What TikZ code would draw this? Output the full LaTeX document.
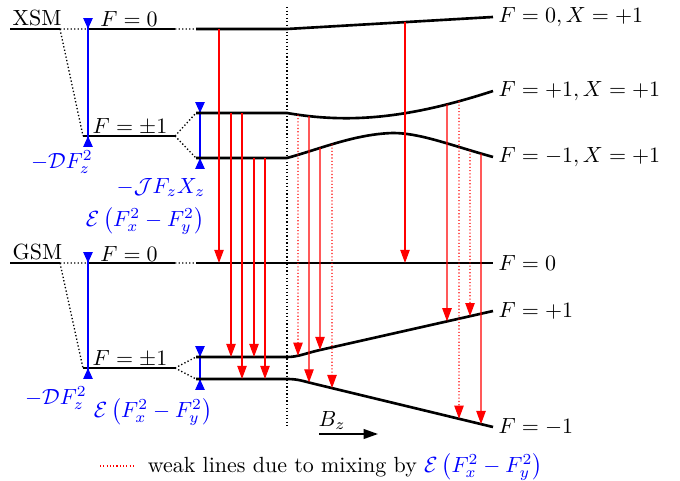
\documentclass[tikz,border=0pt]{standalone}
\usepackage{amsmath}
\usepackage{amssymb}
\usetikzlibrary{arrows.meta,intersections}
\tikzset{
  level/.style={line width=1.2pt},
  link/.style={densely dotted, line width=0.6pt},
  split/.style={blue, line width=0.9pt,
    {Triangle[reversed,length=5pt,width=4.2pt]}-{Triangle[reversed,length=5pt,width=4.2pt]},
    shorten <=-5pt, shorten >=-5pt},
  trans/.style={red, line width=0.5pt, -{Triangle[length=6pt,width=4.3pt]}},
  weak/.style={trans, densely dotted},
  lbl/.style={inner sep=1pt},
  rlbl/.style={right, inner sep=2pt},
  blu/.style={text=blue, inner sep=0pt, anchor=base},
}
\begin{document}
\begin{tikzpicture}[x=0.016cm,y=-0.016cm]
\useasboundingbox (0,0) rectangle (680,480);
% zero-field manifolds
\foreach \tag/\yo/\yi/\ya/\yb in {XSM/29/136/113/158, GSM/263/368/357/379}{
  \draw[level] (10,\yo) -- (60,\yo);
  \node[anchor=south west, lbl] (\tag) at (10,\yo) {\tag};
  \draw[link] (60,\yo) -- (88,\yo) (175,\yo) -- (196,\yo) (60,\yo) -- (83,\yi)
    (175,\yi) -- (196,\ya) (175,\yi) -- (196,\yb);
  \draw[level] (88,\yo) -- (175,\yo) (83,\yi) -- (175,\yi);
  \node[anchor=base] (\tag-f0) at (129,\yo-2) {$F=0$};
  \node[anchor=base] (\tag-f1) at (130,\yi-3) {$F=\pm1$};
  \draw[split] (88,\yo) -- (88,\yi);
  \draw[split] (200,\ya) -- (200,\yb);
}
% splitting labels
\node[blu] (dx) at (62,168) {$-\mathcal{D}F_z^2$};
\node[blu] (jx) at (161,193) {$-\mathcal{J}F_zX_z$};
\node[blu] (ex) at (145,226) {$\mathcal{E}\left(F_x^2-F_y^2\right)$};
\node[blu] (dg) at (56,404) {$-\mathcal{D}F_z^2$};
\node[blu] (eg) at (153,417) {$\mathcal{E}\left(F_x^2-F_y^2\right)$};
% levels in field
\draw[level,name path=XF] (196,29) -- (287,29) -- (493,17) node[rlbl] (xf) {$F=0, X=+1$};
\draw[level,name path=XU] (196,113) -- (287,113) .. controls (350,124) and (410,118) .. (493,91)
  node[rlbl] (xu) {$F=+1, X=+1$};
\draw[level,name path=XL] (196,158) -- (287,158) .. controls (320,149) and (355,134) .. (393,133)
  .. controls (420,133) and (450,145) .. (493,157) node[rlbl] (xl) {$F=-1, X=+1$};
\draw[level,name path=GF] (196,263) -- (493,263) node[rlbl] (gf) {$F=0$};
\draw[level,name path=GU] (196,357) -- (287,357) .. controls (298,357) and (305,353.4) .. (320,350)
  -- (493,311) node[rlbl] (gu) {$F=+1$};
\draw[level,name path=GL] (196,379) -- (287,379) .. controls (298,379) and (303,381.1) .. (315,384)
  -- (493,427) node[rlbl] (gl) {$F=-1$};
% zero field
\draw[link] (287,7) -- (287,428);
% transitions
\foreach \xx/\up/\lo/\kind in {219/XF/GF/trans, 231/XU/GU/trans, 242/XU/GL/trans,
    254/XL/GU/trans, 265/XL/GL/trans, 298/XU/GU/weak, 309/XU/GL/trans, 320/XL/GU/trans,
    332/XL/GL/weak, 405/XF/GF/trans, 447/XU/GU/trans, 459/XU/GL/weak, 470/XL/GU/weak,
    481/XL/GL/trans}{
  \path[name path=cut] (\xx,0) -- (\xx,480);
  \path[name intersections={of=cut and \up, by=top}];
  \path[name intersections={of=cut and \lo, by=bot}];
  \draw[\kind] (top) -- (bot);
}
% field direction
\coordinate (b0) at (319,434);
\coordinate (b1) at (378,434);
\draw[line width=0.8pt, -{Triangle[length=6.5pt,width=4.4pt]}] (b0) -- (b1);
\node[anchor=base] (bz) at (332,426) {$B_z$};
% legend
\coordinate (k0) at (100,466);
\coordinate (k1) at (135,466);
\draw[red, densely dotted, line width=0.5pt] (k0) -- (k1);
\node[anchor=west, inner sep=2pt] (key) at (143,467)
  {weak lines due to mixing by \textcolor{blue}{$\mathcal{E}\left(F_x^2-F_y^2\right)$}};
\end{tikzpicture}
\end{document}
